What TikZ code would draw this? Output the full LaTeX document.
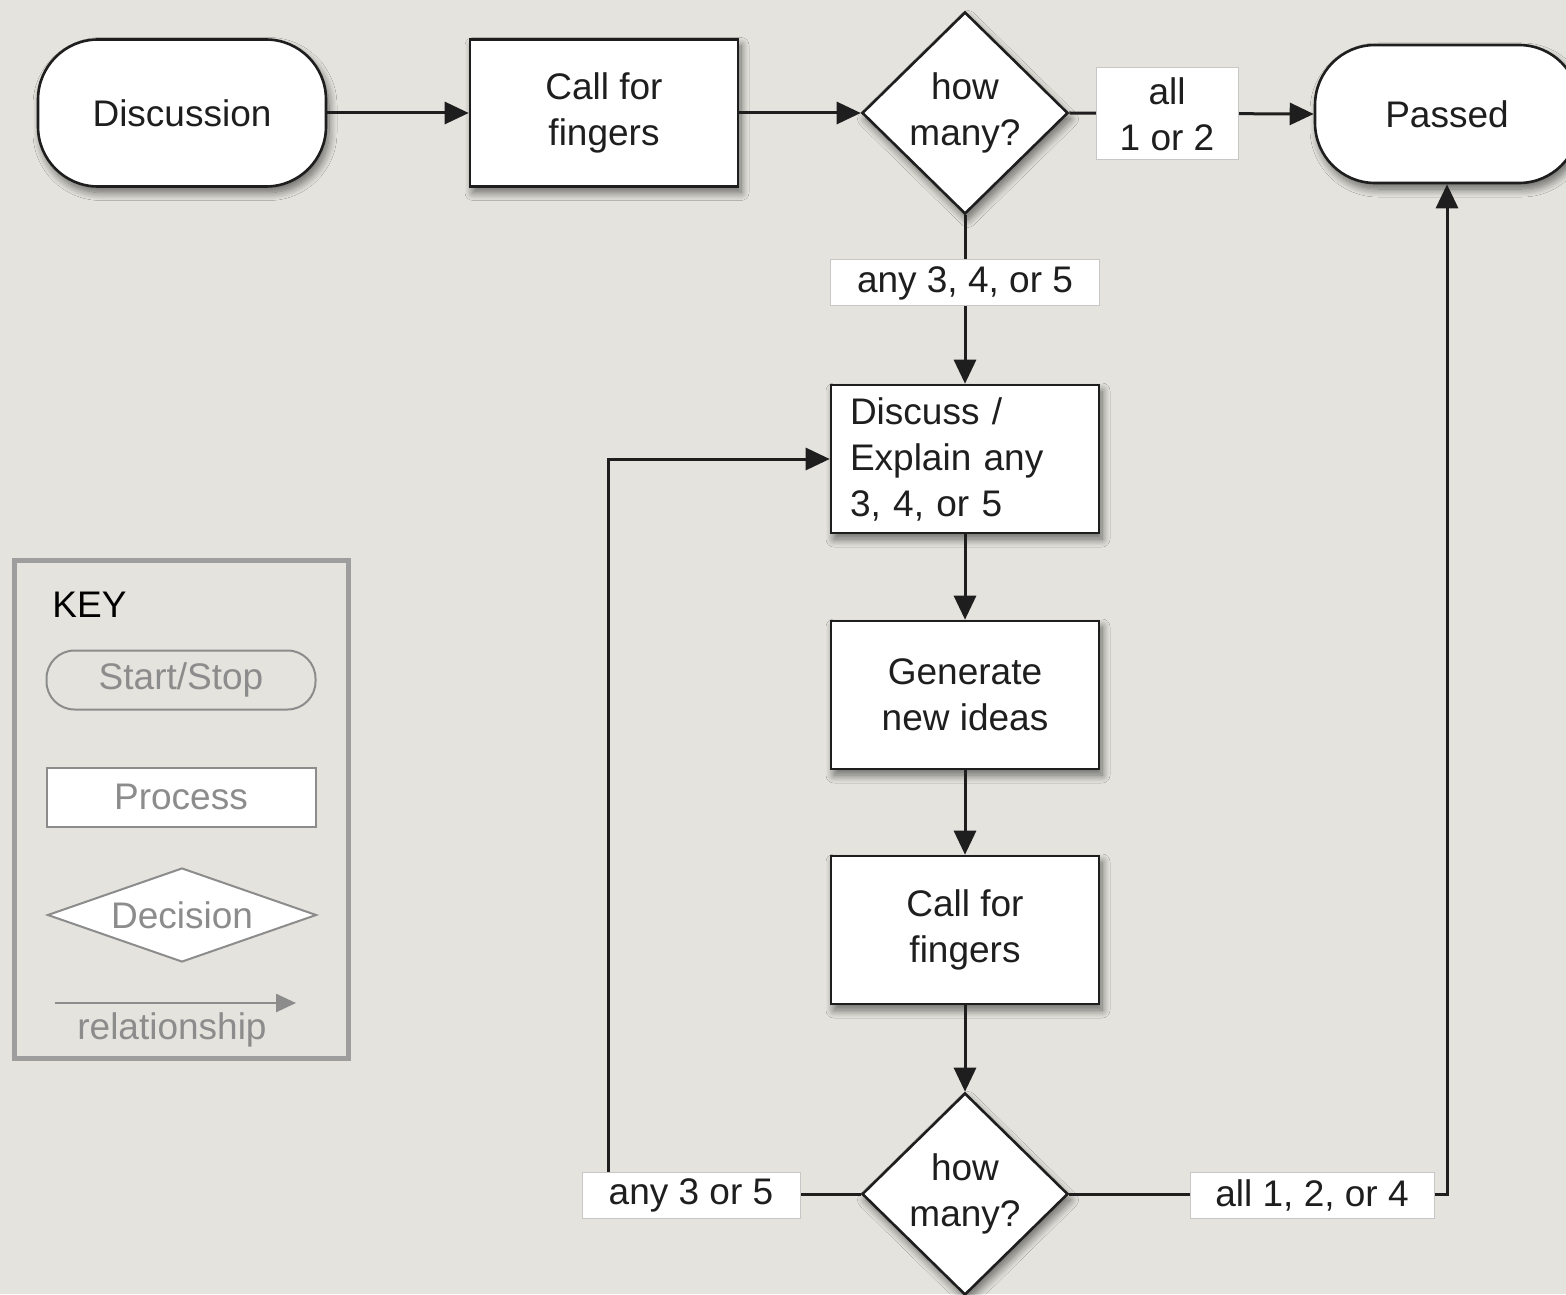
\documentclass[tikz,border=0pt]{standalone}
\usepackage{fontspec}
\setmainfont{Liberation Sans}
\usetikzlibrary{shapes.geometric,arrows.meta,shadows.blur}
\definecolor{paper}{HTML}{E4E3DD}
\definecolor{ink}{HTML}{1E1E1E}
\definecolor{keygrey}{HTML}{8C8C8C}
\begin{document}
\begin{tikzpicture}[x=0.5pt,y=-0.5pt,
  font=\fontsize{18.5}{23}\selectfont, text=ink,
  soft/.style={blur shadow={shadow xshift=1.5pt,shadow yshift=-3pt,shadow blur radius=4pt,shadow blur steps=12,shadow opacity=55}},
  terminal/.style={draw=ink, line width=1.3pt, fill=white, rounded corners=30pt, minimum width=144pt, minimum height=73.5pt, soft},
  process/.style={draw=ink, line width=1.3pt, fill=white, minimum width=134pt, minimum height=74pt, align=center, soft},
  decision/.style={draw=ink, line width=1.3pt, fill=white, diamond, inner sep=0pt, minimum width=103pt, minimum height=101pt, align=center, soft},
  tag/.style={draw=black!22, line width=0.5pt, fill=white, align=center, inner sep=0pt, minimum height=23pt},
  flow/.style={draw=ink, line width=1.5pt, -{Triangle[length=12pt,width=11pt]}},
]
\useasboundingbox (0,0) rectangle (1566,1294);
\clip (0,0) rectangle (1566,1294);
\fill[paper] (0,0) rectangle (1566,1294);

% main flow
\node[terminal] (disc) at (182,113) {Discussion};
\node[process, minimum height=73.5pt] (call1) at (604,113) {Call for\\fingers};
\node[decision] (d1) at (965,113) {how\\many?};
\node[terminal, minimum width=132pt, minimum height=69pt] (passed) at (1447,114) {Passed};
\node[process, text width=115pt, align=left] (explain) at (965,459) {Discuss /\\Explain any\\3, 4, or 5};
\node[process] (gen) at (965,695) {Generate\\new ideas};
\node[process] (call2) at (965,930) {Call for\\fingers};
\node[decision] (d2) at (965,1194) {how\\many?};

\coordinate (loopL) at (608,1194);
\coordinate (loopR) at (1447,1194);

\draw[flow] (disc.east) -- (call1.west);
\draw[flow] (call1.east) -- (d1.west);
\draw[flow] (d1.east) -- (passed.west);
\draw[flow] (d1.south) -- (explain.north);
\draw[flow] (explain.south) -- (gen.north);
\draw[flow] (gen.south) -- (call2.north);
\draw[flow] (call2.south) -- (d2.north);
\draw[flow] (d2.west) -- (loopL) |- (explain.west);
\draw[flow] (d2.east) -- (loopR) -- (passed.south);

% edge labels
\node[tag, minimum width=71pt, minimum height=46pt] (t12) at (1167,114) {all\\1 or 2};
\node[tag, minimum width=134.5pt] (t345) at (965,283) {any 3, 4, or 5};
\node[tag, minimum width=109pt] (t35) at (691,1195) {any 3 or 5};
\node[tag, minimum width=122pt] (t124) at (1312,1195) {all 1, 2, or 4};

% key
\node[draw=black!38, line width=2.5pt, minimum width=167pt, minimum height=249pt] (keybox) at (181,809) {};
\node[anchor=west, text=black, inner sep=0pt] (keytitle) at (52,605) {KEY};
\node[draw=keygrey, line width=1pt, rounded corners=14pt, minimum width=134.5pt, minimum height=29.5pt, text=keygrey] (kstart) at (181,680) {Start/Stop};
\node[draw=keygrey, line width=1pt, fill=white, minimum width=134.5pt, minimum height=29.5pt, text=keygrey] (kproc) at (181,797) {Process};
\node[draw=keygrey, line width=1pt, fill=white, diamond, aspect=2.86, inner sep=0pt, minimum width=134.5pt, minimum height=47pt, text=keygrey] (kdec) at (182,915) {Decision};
\coordinate (ka) at (55,1003);
\coordinate (kb) at (296,1003);
\draw[keygrey, line width=1.3pt, -{Triangle[length=10pt,width=9pt]}] (ka) -- (kb);
\node[text=keygrey] (krel) at (172,1030) {relationship};
\end{tikzpicture}
\end{document}
